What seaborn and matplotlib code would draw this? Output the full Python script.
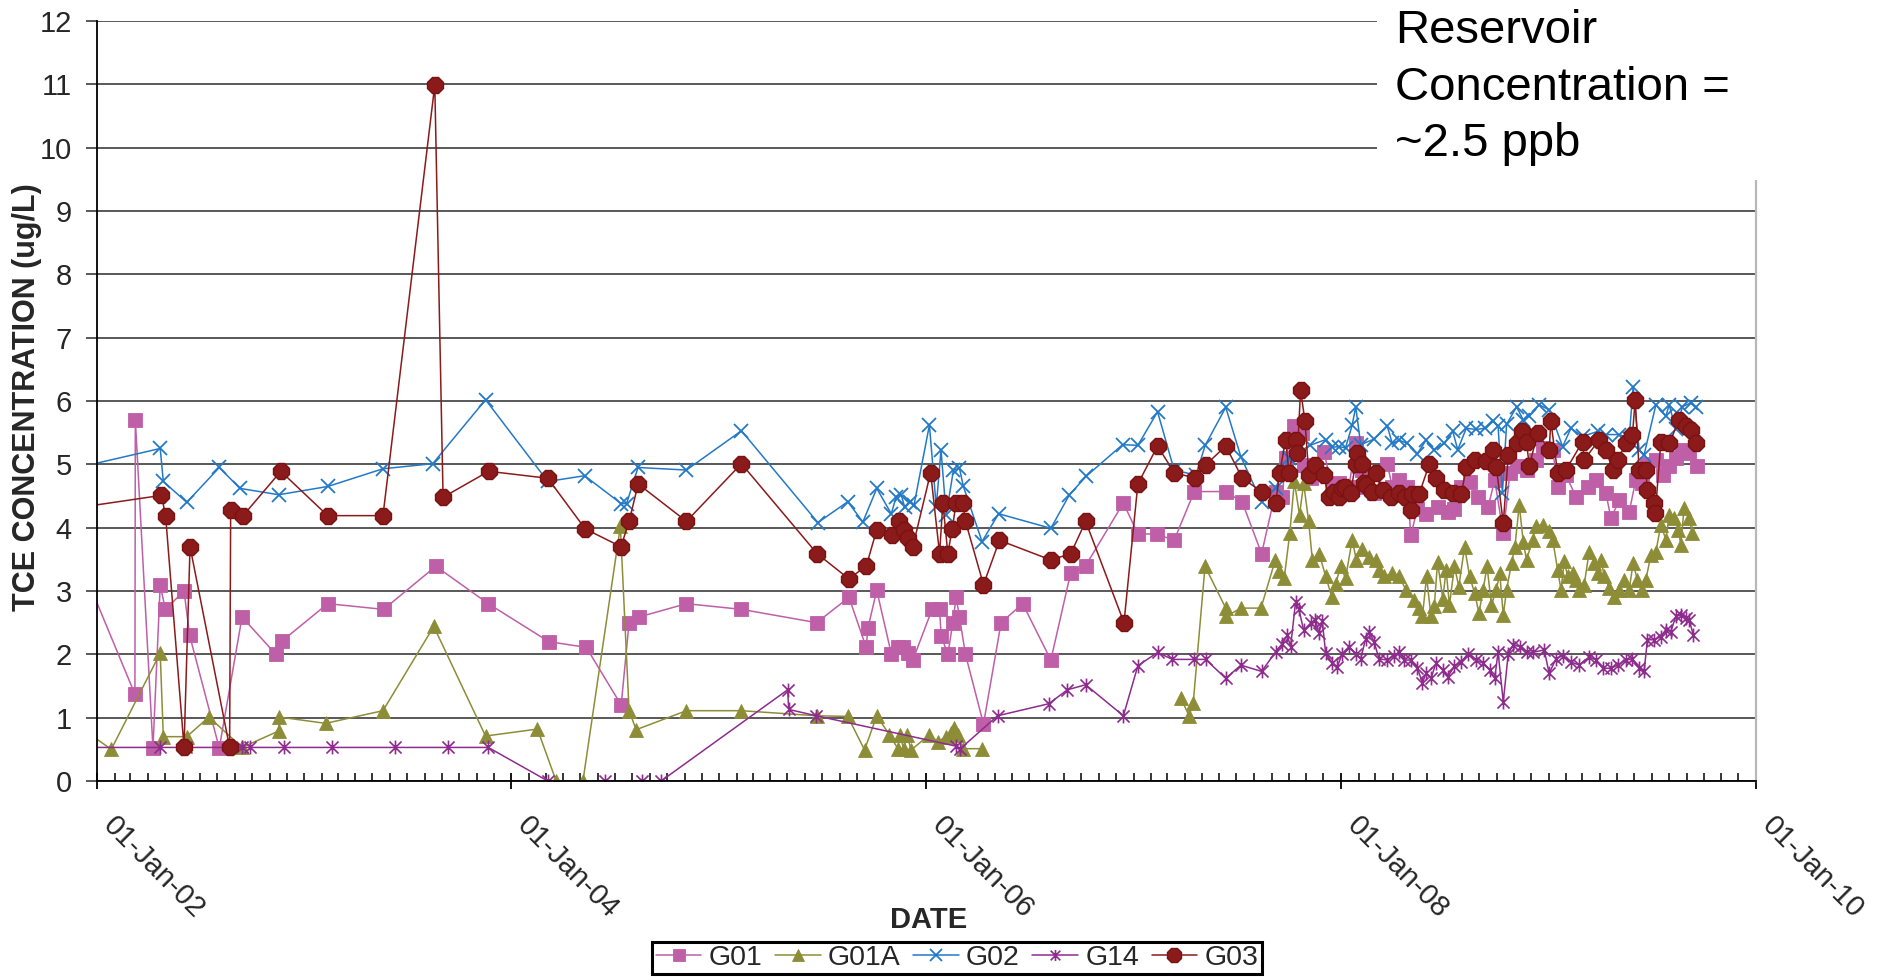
import numpy as np
import pandas as pd
import matplotlib
matplotlib.use("Agg")
import matplotlib.pyplot as plt
import matplotlib.dates as mdates
from matplotlib.path import Path
from matplotlib.lines import Line2D
from matplotlib.patches import Rectangle
from matplotlib.transforms import ScaledTranslation
import seaborn as sns
from datetime import datetime, timedelta

# ---------------------------------------------------------------------------
# Sampling dates (decimal years) and TCE concentrations (ug/L) per well
# ---------------------------------------------------------------------------
g01_t = [2001.90, 2002.183, 2002.185, 2002.27, 2002.305, 2002.33, 2002.42, 2002.447, 2002.59,
         2002.70, 2002.863, 2002.893, 2003.113, 2003.383, 2003.635, 2003.888, 2004.18, 2004.36,
         2004.528, 2004.566, 2004.614, 2004.842, 2005.107, 2005.47, 2005.626, 2005.709, 2005.717,
         2005.76, 2005.83, 2005.862, 2005.886, 2005.91, 2005.934, 2006.027, 2006.063, 2006.071,
         2006.103, 2006.127, 2006.143, 2006.159, 2006.188, 2006.275, 2006.36, 2006.464, 2006.60,
         2006.696, 2006.768, 2006.95, 2007.02, 2007.11, 2007.195, 2007.292, 2007.444, 2007.524,
         2007.617, 2007.685, 2007.717, 2007.733, 2007.773, 2007.81, 2007.82, 2007.853, 2007.917,
         2007.958, 2007.99, 2008.038, 2008.071, 2008.085, 2008.103, 2008.119, 2008.159, 2008.223,
         2008.247, 2008.28, 2008.32, 2008.336, 2008.368, 2008.409, 2008.465, 2008.514, 2008.546,
         2008.579, 2008.619, 2008.66, 2008.708, 2008.74, 2008.781, 2008.813, 2008.845, 2008.893,
         2008.938, 2008.97, 2009.019, 2009.043, 2009.083, 2009.131, 2009.187, 2009.228, 2009.276,
         2009.30, 2009.34, 2009.388, 2009.42, 2009.452, 2009.476, 2009.517, 2009.549, 2009.581,
         2009.613, 2009.645, 2009.677, 2009.717]
g01_v = [3.60, 1.37, 5.70, 0.52, 3.09, 2.71, 3.00, 2.30, 0.52,
         2.59, 2.00, 2.21, 2.80, 2.71, 3.39, 2.80, 2.20, 2.11,
         1.20, 2.50, 2.59, 2.80, 2.71, 2.50, 2.90, 2.11, 2.41,
         3.01, 2.01, 2.11, 2.11, 2.02, 1.91, 2.71, 2.71, 2.29,
         2.00, 2.50, 2.90, 2.59, 2.00, 0.90, 2.50, 2.80, 1.91,
         3.29, 3.40, 4.39, 3.90, 3.90, 3.80, 4.57, 4.57, 4.40,
         3.59, 4.57, 4.49, 5.10, 5.60, 5.49, 4.99, 4.79, 5.20,
         4.64, 4.70, 4.64, 5.33, 4.97, 4.91, 4.64, 4.54, 5.01,
         4.64, 4.75, 4.64, 3.88, 4.30, 4.22, 4.33, 4.25, 4.30,
         4.64, 4.72, 4.49, 4.33, 4.75, 3.91, 4.86, 4.97, 4.91,
         5.07, 5.26, 5.23, 4.64, 4.83, 4.49, 4.64, 4.75, 4.54,
         4.15, 4.43, 4.25, 4.75, 4.70, 5.01, 5.07, 4.83, 4.97,
         5.10, 5.23, 5.18, 4.97]

# G01A: no samples between mid-2006 and early 2007 (NaN breaks the line)
g01a_t = [2001.90, 2002.069, 2002.305, 2002.32, 2002.433, 2002.54, 2002.70, 2002.877, 2002.88,
          2003.103, 2003.38, 2003.625, 2003.875, 2004.125, 2004.215, 2004.344, 2004.524, 2004.566,
          2004.60, 2004.842, 2005.107, 2005.47, 2005.62, 2005.701, 2005.76, 2005.821, 2005.862,
          2005.87, 2005.89, 2005.906, 2005.926, 2006.014, 2006.055, 2006.095, 2006.119, 2006.135,
          2006.15, 2006.175, 2006.268, 2006.6,
          2007.227, 2007.267, 2007.287, 2007.344, 2007.444, 2007.447, 2007.517, 2007.614, 2007.683,
          2007.70, 2007.726, 2007.753, 2007.775, 2007.80, 2007.82, 2007.844, 2007.862, 2007.894,
          2007.926, 2007.955, 2007.974, 2007.998, 2008.022, 2008.054, 2008.074, 2008.10, 2008.135,
          2008.167, 2008.183, 2008.207, 2008.247, 2008.28, 2008.312, 2008.352, 2008.376, 2008.392,
          2008.412, 2008.433, 2008.449, 2008.465, 2008.49, 2008.506, 2008.522, 2008.546, 2008.567,
          2008.595, 2008.619, 2008.643, 2008.664, 2008.684, 2008.703, 2008.724, 2008.748, 2008.764,
          2008.781, 2008.797, 2008.821, 2008.837, 2008.858, 2008.877, 2008.893, 2008.922, 2008.938,
          2008.97, 2009.002, 2009.019, 2009.043, 2009.059, 2009.075, 2009.091, 2009.115, 2009.131,
          2009.147, 2009.171, 2009.195, 2009.219, 2009.236, 2009.252, 2009.268, 2009.292, 2009.316,
          2009.34, 2009.364, 2009.388, 2009.407, 2009.428, 2009.452, 2009.468, 2009.493, 2009.517,
          2009.541, 2009.565, 2009.581, 2009.605, 2009.626, 2009.637, 2009.653, 2009.677, 2009.693]
g01a_v = [0.89, 0.50, 2.02, 0.70, 0.70, 1.01, 0.53, 0.79, 1.01,
          0.91, 1.11, 2.44, 0.71, 0.82, 0.00, 0.00, 4.02, 1.11,
          0.81, 1.11, 1.11, 1.03, 1.02, 0.49, 1.03, 0.73, 0.51,
          0.73, 0.51, 0.73, 0.49, 0.73, 0.62, 0.70, 0.76, 0.84,
          0.73, 0.51, 0.51, np.nan,
          1.31, 1.03, 1.23, 3.39, 2.73, 2.60, 2.73, 2.73, 3.49,
          3.31, 3.20, 3.91, 4.73, 4.20, 4.70, 4.10, 3.49, 3.59,
          3.24, 2.91, 3.11, 3.39, 3.20, 3.81, 3.49, 3.67, 3.54,
          3.49, 3.33, 3.23, 3.28, 3.23, 3.02, 2.86, 2.73, 2.60,
          3.23, 2.60, 2.76, 3.46, 2.88, 3.33, 2.78, 3.39, 3.07,
          3.70, 3.23, 2.97, 2.65, 3.02, 3.39, 2.78, 3.02, 3.28,
          2.62, 3.02, 3.44, 3.70, 4.36, 3.78, 3.49, 3.81, 4.02,
          4.05, 3.95, 3.81, 3.33, 3.02, 3.47, 3.23, 3.28, 3.17,
          3.02, 3.10, 3.62, 3.44, 3.28, 3.49, 3.23, 3.05, 2.91,
          3.02, 3.17, 3.02, 3.44, 3.17, 3.02, 3.17, 3.57, 3.62,
          4.05, 3.81, 4.20, 4.15, 3.97, 3.73, 4.31, 4.15, 3.92]

g02_t = [2001.75, 2002.305, 2002.32, 2002.433, 2002.59, 2002.69, 2002.877, 2003.113, 2003.38,
         2003.62, 2003.875, 2004.175, 2004.352, 2004.528, 2004.554, 2004.609, 2004.842, 2005.107,
         2005.476, 2005.62, 2005.693, 2005.76, 2005.83, 2005.854, 2005.878, 2005.894, 2005.918,
         2005.94, 2006.014, 2006.047, 2006.07, 2006.095, 2006.13, 2006.159, 2006.178, 2006.268,
         2006.348, 2006.60, 2006.69, 2006.77, 2006.946, 2007.02, 2007.115, 2007.195, 2007.30,
         2007.345, 2007.444, 2007.517, 2007.618, 2007.685, 2007.75, 2007.85, 2007.926, 2007.958,
         2007.99, 2008.022, 2008.054, 2008.071, 2008.095, 2008.16, 2008.223, 2008.247, 2008.28,
         2008.32, 2008.368, 2008.409, 2008.449, 2008.498, 2008.538, 2008.562, 2008.603, 2008.651,
         2008.692, 2008.732, 2008.756, 2008.777, 2008.797, 2008.845, 2008.877, 2008.906, 2008.954,
         2009.002, 2009.067, 2009.107, 2009.163, 2009.236, 2009.276, 2009.34, 2009.388, 2009.407,
         2009.436, 2009.46, 2009.517, 2009.565, 2009.581, 2009.613, 2009.645, 2009.685, 2009.709]
g02_v = [4.83, 5.25, 4.73, 4.40, 4.95, 4.62, 4.52, 4.65, 4.93,
         5.01, 6.02, 4.73, 4.82, 4.38, 4.38, 4.95, 4.91, 5.53,
         4.08, 4.41, 4.09, 4.62, 4.22, 4.49, 4.52, 4.33, 4.41,
         4.36, 5.62, 4.33, 5.23, 4.20, 4.91, 4.94, 4.65, 3.78,
         4.22, 3.99, 4.52, 4.81, 5.31, 5.30, 5.83, 4.91, 4.83,
         5.30, 5.90, 5.12, 4.40, 4.63, 5.10, 5.30, 5.39, 5.27,
         5.28, 5.26, 5.62, 5.91, 5.31, 5.40, 5.60, 5.33, 5.38,
         5.33, 5.17, 5.38, 5.23, 5.33, 5.52, 5.23, 5.57, 5.55,
         5.57, 5.68, 5.60, 4.55, 5.63, 5.91, 5.70, 5.76, 5.94,
         5.86, 5.28, 5.57, 5.44, 5.52, 5.47, 5.47, 5.41, 6.22,
         5.23, 5.15, 5.94, 5.76, 5.94, 5.55, 5.91, 5.97, 5.91]

g14_t = [2001.90, 2002.305, 2002.43, 2002.70, 2002.74, 2002.90, 2003.133, 2003.44, 2003.695,
         2003.888, 2004.175, 2004.448, 2004.63, 2004.72, 2005.33, 2005.335, 2005.468, 2006.143,
         2006.16, 2006.343, 2006.59, 2006.68, 2006.768, 2006.95, 2007.02, 2007.115, 2007.187,
         2007.291, 2007.347, 2007.444, 2007.517, 2007.617, 2007.685, 2007.717, 2007.741, 2007.757,
         2007.781, 2007.797, 2007.82, 2007.853, 2007.877, 2007.893, 2007.91, 2007.926, 2007.958,
         2007.982, 2008.006, 2008.038, 2008.071, 2008.095, 2008.119, 2008.135, 2008.159, 2008.183,
         2008.223, 2008.256, 2008.28, 2008.304, 2008.336, 2008.368, 2008.392, 2008.409, 2008.433,
         2008.457, 2008.49, 2008.514, 2008.546, 2008.579, 2008.611, 2008.651, 2008.684, 2008.716,
         2008.74, 2008.756, 2008.781, 2008.805, 2008.829, 2008.861, 2008.893, 2008.922, 2008.978,
         2009.002, 2009.035, 2009.067, 2009.107, 2009.147, 2009.195, 2009.228, 2009.26, 2009.30,
         2009.332, 2009.372, 2009.404, 2009.436, 2009.46, 2009.476, 2009.509, 2009.541, 2009.565,
         2009.589, 2009.613, 2009.637, 2009.661, 2009.677, 2009.697]
g14_v = [0.53, 0.53, 0.53, 0.53, 0.53, 0.53, 0.53, 0.53, 0.53,
         0.53, 0.00, 0.00, 0.00, 0.00, 1.44, 1.13, 1.03, 0.55,
         0.50, 1.03, 1.22, 1.44, 1.52, 1.03, 1.82, 2.03, 1.92,
         1.92, 1.92, 1.62, 1.83, 1.73, 2.04, 2.17, 2.30, 2.12,
         2.83, 2.71, 2.38, 2.49, 2.55, 2.34, 2.52, 2.02, 1.86,
         1.80, 2.01, 2.12, 2.01, 1.93, 2.25, 2.36, 2.20, 1.93,
         1.91, 1.98, 2.04, 1.91, 1.91, 1.78, 1.55, 1.70, 1.62,
         1.86, 1.75, 1.65, 1.81, 1.88, 2.01, 1.91, 1.86, 1.75,
         1.62, 2.04, 1.25, 2.01, 2.15, 2.12, 2.04, 2.03, 2.07,
         1.70, 1.93, 1.98, 1.88, 1.83, 1.96, 1.91, 1.78, 1.78,
         1.83, 1.91, 1.93, 1.78, 1.73, 2.23, 2.23, 2.28, 2.39,
         2.36, 2.60, 2.62, 2.57, 2.55, 2.31]

g03_t = [2001.75, 2002.311, 2002.331, 2002.42, 2002.449, 2002.64, 2002.645, 2002.705, 2002.887,
         2003.113, 2003.38, 2003.63, 2003.67, 2003.89, 2004.175, 2004.355, 2004.527, 2004.566,
         2004.61, 2004.842, 2005.107, 2005.472, 2005.626, 2005.71, 2005.76, 2005.834, 2005.867,
         2005.89, 2005.91, 2005.934, 2006.02, 2006.063, 2006.079, 2006.103, 2006.124, 2006.143,
         2006.175, 2006.188, 2006.275, 2006.352, 2006.60, 2006.696, 2006.768, 2006.953, 2007.02,
         2007.115, 2007.195, 2007.297, 2007.347, 2007.444, 2007.524, 2007.617, 2007.685, 2007.704,
         2007.733, 2007.749, 2007.781, 2007.79, 2007.805, 2007.826, 2007.845, 2007.877, 2007.917,
         2007.941, 2007.966, 2007.99, 2008.006, 2008.02, 2008.046, 2008.07, 2008.079, 2008.103,
         2008.109, 2008.119, 2008.151, 2008.167, 2008.20, 2008.24, 2008.28, 2008.31,
         2008.336, 2008.344, 2008.376, 2008.425, 2008.457,
         2008.498, 2008.538, 2008.579, 2008.603, 2008.643, 2008.70, 2008.732, 2008.748, 2008.781,
         2008.805, 2008.845, 2008.869, 2008.893, 2008.906, 2008.946, 2009.002, 2009.01, 2009.043,
         2009.083, 2009.163, 2009.171, 2009.244, 2009.276, 2009.308, 2009.332, 2009.372, 2009.404,
         2009.417, 2009.436, 2009.468, 2009.476, 2009.509, 2009.514, 2009.541, 2009.581, 2009.629,
         2009.661, 2009.685, 2009.709]
g03_v = [4.24, 4.51, 4.19, 0.53, 3.70, 0.53, 4.28, 4.19, 4.89,
         4.19, 4.19, 10.99, 4.48, 4.89, 4.78, 3.98, 3.70, 4.10,
         4.69, 4.10, 5.01, 3.59, 3.19, 3.40, 3.97, 3.89, 4.11,
         3.97, 3.83, 3.70, 4.87, 3.59, 4.39, 3.59, 3.98, 4.39,
         4.39, 4.10, 3.10, 3.80, 3.49, 3.59, 4.10, 2.50, 4.69,
         5.29, 4.87, 4.78, 4.99, 5.29, 4.78, 4.57, 4.39, 4.86,
         5.39, 4.87, 5.39, 5.18, 6.17, 5.69, 4.83, 4.99, 4.83,
         4.49, 4.57, 4.49, 4.62, 4.64, 4.54, 5.01, 5.18, 5.01,
         4.70, 4.68, 4.57, 4.86, 4.60, 4.49, 4.55, 4.49,
         4.28, 4.53, 4.53, 5.00, 4.78,
         4.60, 4.54, 4.53, 4.95, 5.07, 5.05, 5.23, 4.95, 4.07,
         5.14, 5.33, 5.52, 5.36, 4.97, 5.49, 5.23, 5.68, 4.86,
         4.91, 5.36, 5.07, 5.39, 5.23, 4.91, 5.07, 5.33, 5.47,
         6.02, 4.91, 4.91, 4.60, 4.39, 4.23, 5.36, 5.33, 5.70,
         5.60, 5.54, 5.33]

wells = ["G01", "G01A", "G02", "G14", "G03"]
y_ticks = list(range(0, 13))
note_text = "Reservoir\nConcentration =\n~2.5 ppb"


def to_datetime(decimal_year):
    year = int(np.floor(decimal_year))
    start = datetime(year, 1, 1)
    length = (datetime(year + 1, 1, 1) - start).days
    return start + timedelta(days=(decimal_year - year) * length)


# asterisk marker: an "x" crossed by a vertical stroke
star_marker = Path(
    [(-1, -1), (1, 1), (-1, 1), (1, -1), (0, -1.15), (0, 1.15)],
    [Path.MOVETO, Path.LINETO, Path.MOVETO, Path.LINETO, Path.MOVETO, Path.LINETO],
)

styles = {
    "G01": dict(color="#BF5FA8", marker="s", markersize=10.5, markeredgewidth=0.6,
                markeredgecolor="#BF5FA8", linewidth=1.1),
    "G01A": dict(color="#8D8D38", marker="^", markersize=10.5, markeredgewidth=0.6,
                 markeredgecolor="#8D8D38", linewidth=1.1),
    "G02": dict(color="#2479C6", marker="x", markersize=10, markeredgewidth=1.3,
                markeredgecolor="#2479C6", linewidth=1.1),
    "G14": dict(color="#8E2C8E", marker=star_marker, markersize=10, markeredgewidth=1.2,
                markeredgecolor="#8E2C8E", markerfacecolor="none", linewidth=1.1),
    "G03": dict(color="#8B1A1A", marker="8", markersize=13, markeredgewidth=1.0,
                markeredgecolor="#7A1212", linewidth=1.1),
}

series = {
    "G01": (g01_t, g01_v),
    "G01A": (g01a_t, g01a_v),
    "G02": (g02_t, g02_v),
    "G14": (g14_t, g14_v),
    "G03": (g03_t, g03_v),
}

sns.set_theme(style="white")
plt.rcParams["font.family"] = ["Liberation Sans", "DejaVu Sans"]

W, H = 1878, 980
fig = plt.figure(figsize=(W / 100, H / 100), dpi=100)
ax = fig.add_axes([97 / W, 1 - 781 / H, (1756 - 97) / W, (781 - 21) / H])

for name in wells:
    t, v = series[name]
    df = pd.DataFrame({"date": [to_datetime(x) for x in t], "value": v})
    # split at missing samples so the line is broken there
    valid = df["value"].notna()
    seg_id = (~valid).cumsum()
    for _, seg in df[valid].groupby(seg_id[valid]):
        sns.lineplot(data=seg, x="date", y="value", ax=ax, sort=False, estimator=None,
                     legend=False, **styles[name])

ax.set_xlim(datetime(2002, 1, 1), datetime(2010, 1, 1))
ax.set_ylim(0, 12)
ax.set_yticks(y_ticks)

ax.xaxis.set_major_locator(mdates.YearLocator(2, month=1, day=1))
ax.xaxis.set_major_formatter(mdates.DateFormatter("%d-%b-%y"))
ax.xaxis.set_minor_locator(mdates.MonthLocator())

ax.yaxis.grid(True, color="#3c3c3c", linewidth=1.2)
ax.xaxis.grid(False)
ax.set_axisbelow(True)

for side in ["left", "bottom"]:
    ax.spines[side].set_color("black")
    ax.spines[side].set_linewidth(1.3)
ax.spines["top"].set_visible(False)
ax.spines["right"].set_color("#b8b8b8")
ax.spines["right"].set_linewidth(1.6)

ax.tick_params(axis="y", which="major", direction="out", length=8, width=1.2,
               color="#3c3c3c", pad=10, labelsize=21, left=True)
ax.tick_params(axis="x", which="major", direction="inout", length=11.5, width=1.3,
               color="black", pad=16, labelsize=21, bottom=True)
ax.tick_params(axis="x", which="minor", direction="in", length=5.8, width=1.1,
               color="black", bottom=True)

shift = ScaledTranslation(20 / 100, 0, fig.dpi_scale_trans)
for tick in ax.xaxis.get_major_ticks():
    lbl = tick.label1
    lbl.set_rotation(-45)
    lbl.set_rotation_mode("anchor")
    lbl.set_horizontalalignment("left")
    lbl.set_verticalalignment("top")
    lbl.set_transform(lbl.get_transform() + shift)

ax.set_xlabel("DATE", fontsize=21, fontweight="bold")
ax.xaxis.set_label_coords(0.5015, -0.165)
ax.xaxis.label.set_verticalalignment("top")
ax.set_ylabel("TCE CONCENTRATION (ug/L)", fontsize=22, fontweight="bold")
ax.yaxis.set_label_coords(-0.033, 0.505)

# legend
handles = []
for name in wells:
    st = dict(styles[name])
    st["markersize"] = st["markersize"] * 0.8
    handles.append(Line2D([], [], **st))
leg = fig.legend(handles, wells, loc="center", bbox_to_anchor=(957 / W, 1 - 958 / H),
                 ncol=5, fontsize=20.5, frameon=True, fancybox=False, edgecolor="black",
                 framealpha=1, borderpad=0.12, columnspacing=0.45, handlelength=1.6,
                 handletextpad=0.25, borderaxespad=0)
leg.get_frame().set_linewidth(2.2)

# annotation panel over the top-right of the plot
fig.add_artist(Rectangle((1377 / W, 1 - 180 / H), 1 - 1377 / W, 180 / H,
                         transform=fig.transFigure, facecolor="white",
                         edgecolor="none", zorder=5))
fig.text(1395 / W, 1 - 9 / H, note_text, ha="left", va="top", fontsize=34,
         linespacing=1.37, color="black", zorder=6)

fig.savefig("out.png", dpi=100, facecolor="white")
